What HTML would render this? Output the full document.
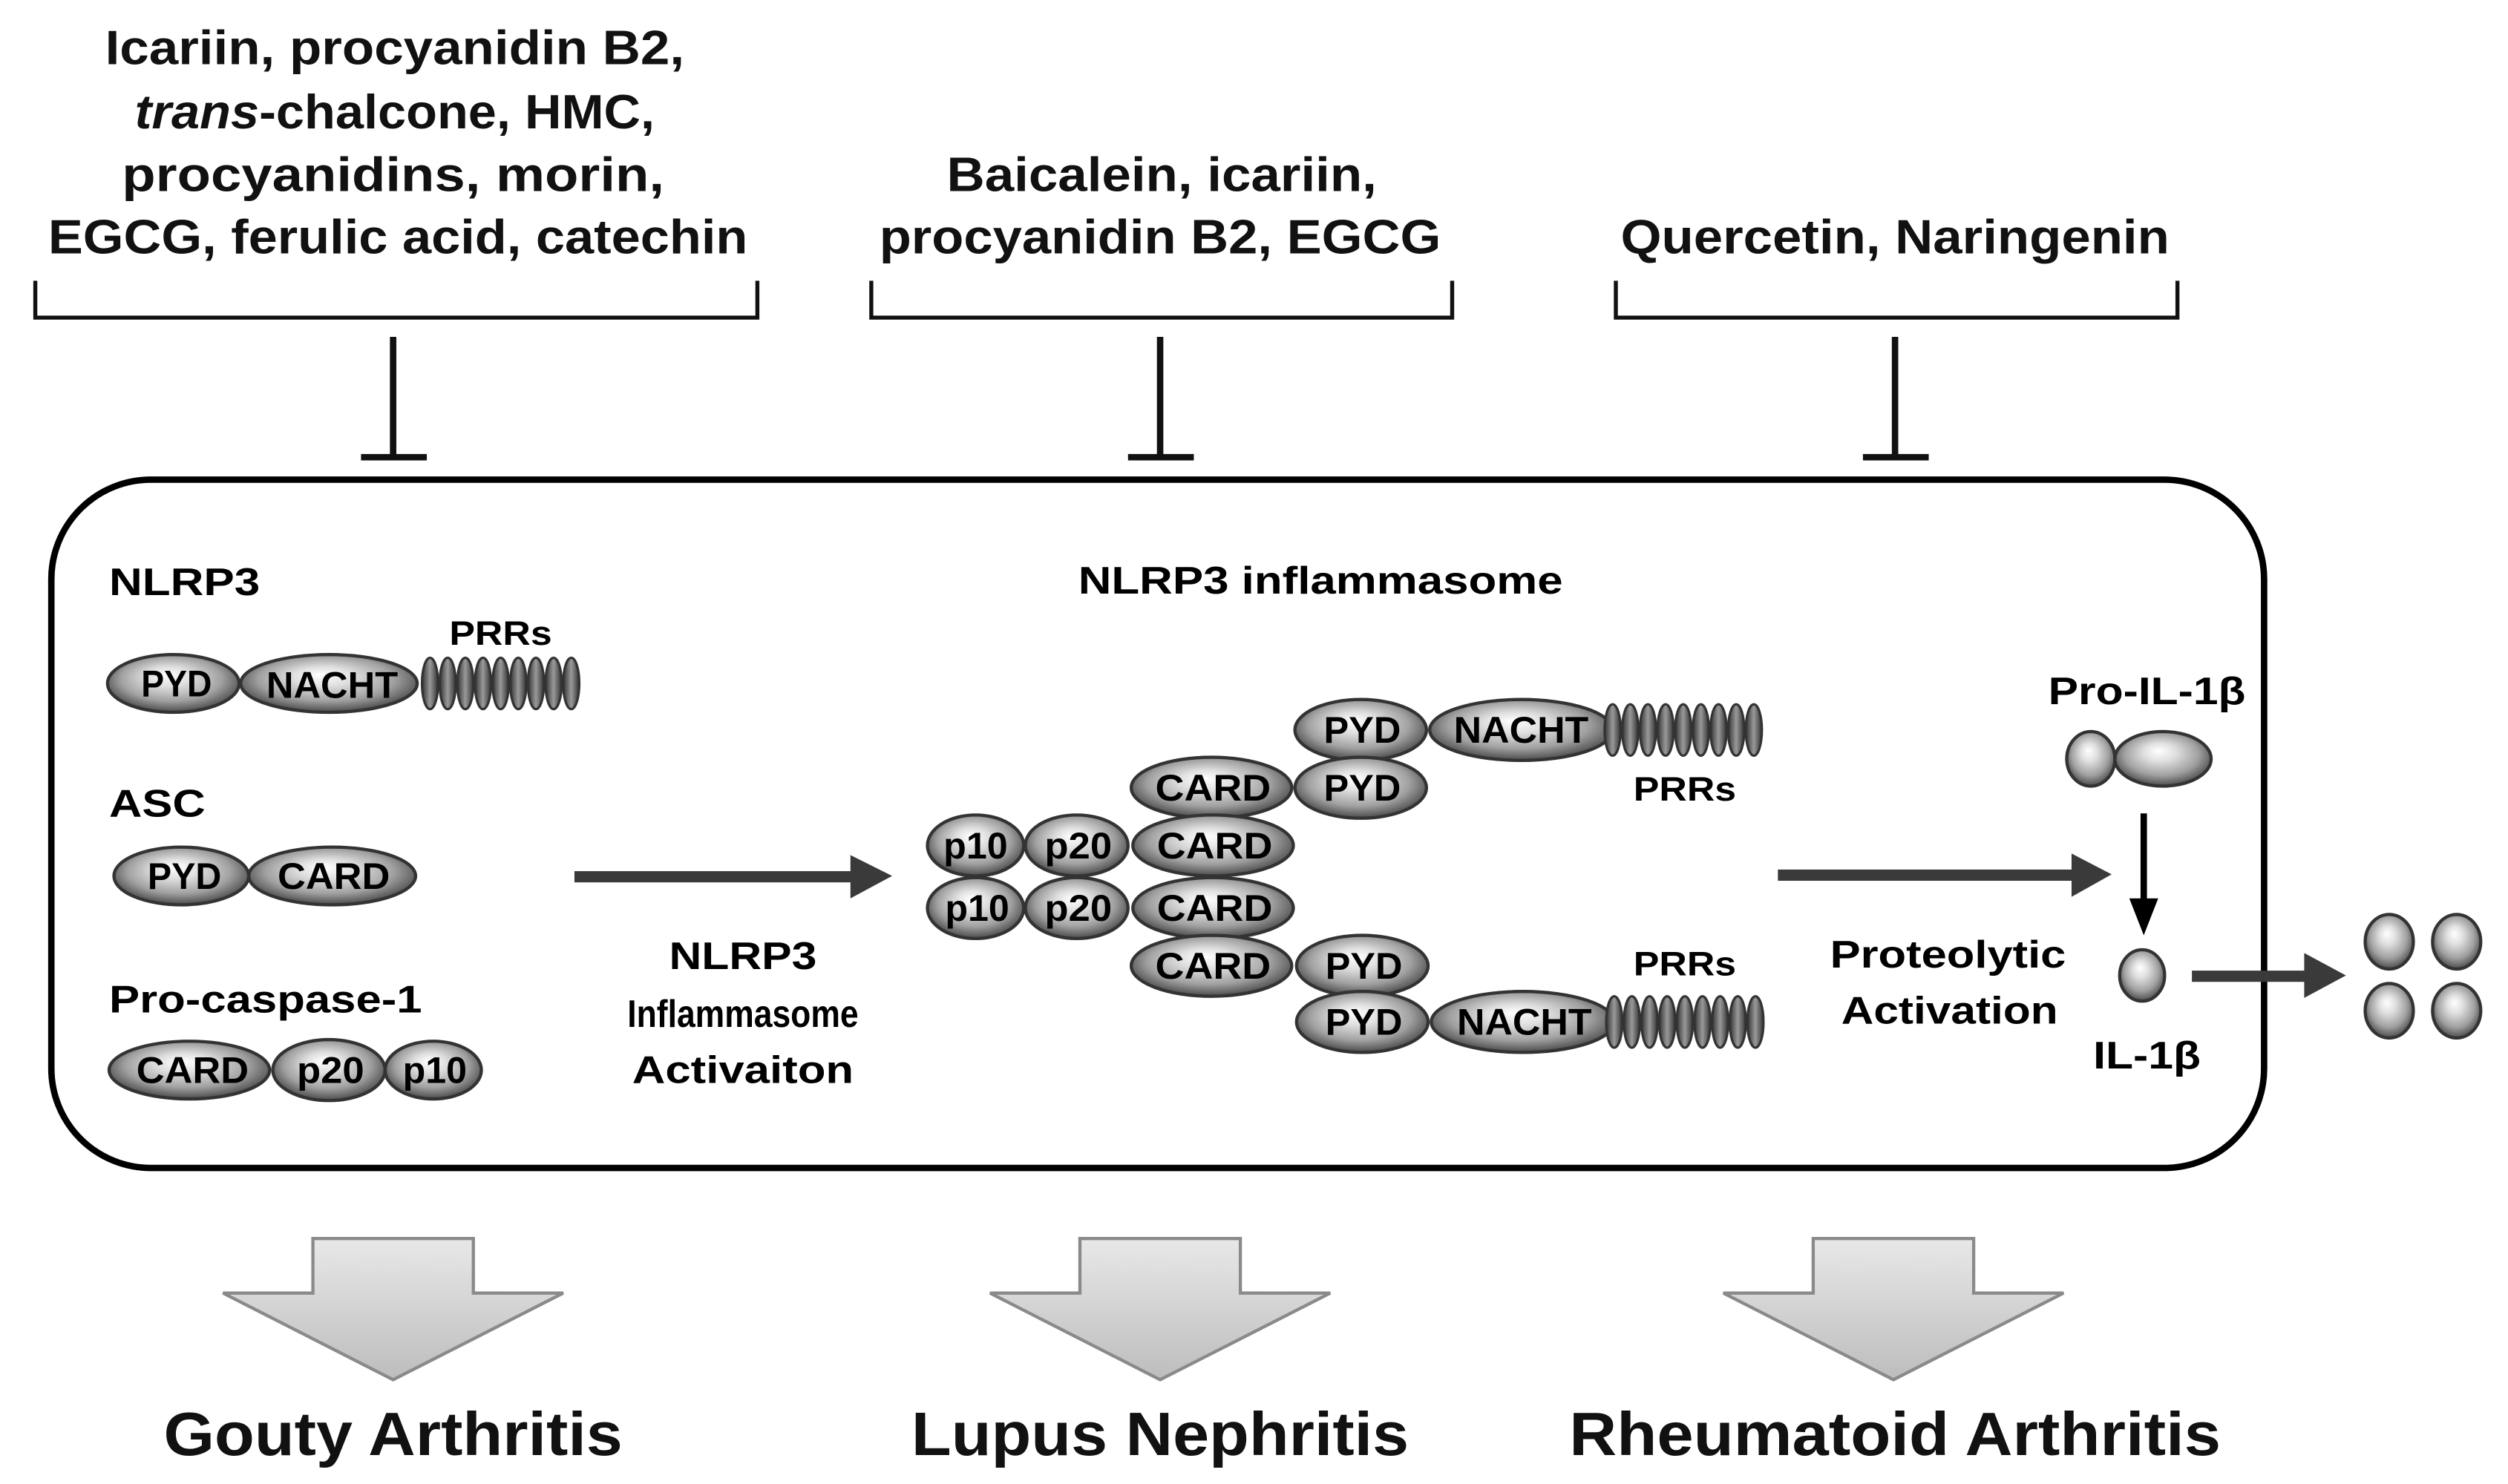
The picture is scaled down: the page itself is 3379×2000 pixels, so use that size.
<!DOCTYPE html>
<html><head><meta charset="utf-8"><style>html,body{margin:0;padding:0;background:#fff}svg{display:block}</style></head>
<body>
<svg width="3379" height="2000" viewBox="0 0 1563 925" preserveAspectRatio="none" xmlns="http://www.w3.org/2000/svg" font-family="Liberation Sans, Arial, sans-serif" font-weight="bold">
<defs>
<radialGradient id="g" cx="0.5" cy="0.45" r="0.55" fx="0.45" fy="0.35">
<stop offset="0" stop-color="#ffffff"/><stop offset="0.3" stop-color="#e0e0e0"/><stop offset="0.7" stop-color="#a0a0a0"/><stop offset="1" stop-color="#4a4a4a"/>
</radialGradient>
<linearGradient id="s" x1="0" x2="1"><stop offset="0" stop-color="#333"/><stop offset="0.5" stop-color="#999"/><stop offset="1" stop-color="#333"/></linearGradient>
<linearGradient id="da" x1="0" y1="0" x2="0" y2="1"><stop offset="0" stop-color="#e8e8e8"/><stop offset="1" stop-color="#bdbdbd"/></linearGradient>
<g id="prr"><g stroke="#333" stroke-width="1.5" fill="url(#s)">
<ellipse cx="5" cy="0" rx="5" ry="16"/><ellipse cx="16" cy="0" rx="5" ry="16"/><ellipse cx="27" cy="0" rx="5" ry="16"/><ellipse cx="38" cy="0" rx="5" ry="16"/><ellipse cx="49" cy="0" rx="5" ry="16"/><ellipse cx="60" cy="0" rx="5" ry="16"/><ellipse cx="71" cy="0" rx="5" ry="16"/><ellipse cx="82" cy="0" rx="5" ry="16"/><ellipse cx="93" cy="0" rx="5" ry="16"/></g></g>
</defs>

<g font-size="30" text-anchor="middle" fill="#111">
<text x="246" y="40" textLength="361" lengthAdjust="spacingAndGlyphs">Icariin, procyanidin B2,</text>
<text x="246" y="80" textLength="324" lengthAdjust="spacingAndGlyphs"><tspan font-style="italic">trans</tspan>-chalcone, HMC,</text>
<text x="245" y="119" textLength="338" lengthAdjust="spacingAndGlyphs">procyanidins, morin,</text>
<text x="248" y="158" textLength="436" lengthAdjust="spacingAndGlyphs">EGCG, ferulic acid, catechin</text>
<text x="724" y="119" textLength="268" lengthAdjust="spacingAndGlyphs">Baicalein, icariin,</text>
<text x="723" y="158" textLength="350" lengthAdjust="spacingAndGlyphs">procyanidin B2, EGCG</text>
<text x="1181" y="158" textLength="342" lengthAdjust="spacingAndGlyphs">Quercetin, Naringenin</text>
</g>

<g fill="none" stroke="#111" stroke-width="2.5">
<path d="M22 175 V198 H472 V175"/><path d="M543 175 V198 H905 V175"/><path d="M1007 175 V198 H1357 V175"/>
</g>
<g stroke="#111" stroke-width="4">
<line x1="245" y1="210" x2="245" y2="285"/><line x1="225" y1="285" x2="266" y2="285"/>
<line x1="723" y1="210" x2="723" y2="285"/><line x1="703" y1="285" x2="744" y2="285"/>
<line x1="1181" y1="210" x2="1181" y2="285"/><line x1="1161" y1="285" x2="1202" y2="285"/>
</g>

<rect x="32" y="299" width="1379" height="429" rx="62" ry="62" fill="none" stroke="#000" stroke-width="4"/>

<g font-size="24" fill="#000">
<text x="68" y="371" textLength="94" lengthAdjust="spacingAndGlyphs">NLRP3</text>
<text x="68" y="509" textLength="60" lengthAdjust="spacingAndGlyphs">ASC</text>
<text x="68" y="631" textLength="195" lengthAdjust="spacingAndGlyphs">Pro-caspase-1</text>
<text x="672" y="370" textLength="302" lengthAdjust="spacingAndGlyphs">NLRP3 inflammasome</text>
<g text-anchor="middle">
<text x="463" y="604" textLength="92" lengthAdjust="spacingAndGlyphs">NLRP3</text>
<text x="463" y="640" textLength="144" lengthAdjust="spacingAndGlyphs">Inflammasome</text>
<text x="463" y="675" textLength="138" lengthAdjust="spacingAndGlyphs">Activaiton</text>
<text x="1214" y="603" textLength="147" lengthAdjust="spacingAndGlyphs">Proteolytic</text>
<text x="1215" y="638" textLength="135" lengthAdjust="spacingAndGlyphs">Activation</text>
<text x="1338" y="439" textLength="123" lengthAdjust="spacingAndGlyphs">Pro-IL-1β</text>
<text x="1338" y="666" textLength="67" lengthAdjust="spacingAndGlyphs">IL-1β</text>
</g>
</g>
<g font-size="21" fill="#000" text-anchor="middle">
<text x="312" y="402" textLength="64" lengthAdjust="spacingAndGlyphs">PRRs</text>
<text x="1050" y="499" textLength="64" lengthAdjust="spacingAndGlyphs">PRRs</text>
<text x="1050" y="608" textLength="64" lengthAdjust="spacingAndGlyphs">PRRs</text>
</g>

<!-- domains -->
<g stroke="#333" stroke-width="2" fill="url(#g)">
<ellipse cx="108" cy="426" rx="41" ry="18"/><ellipse cx="205" cy="426" rx="55" ry="18"/>
<ellipse cx="113" cy="546" rx="42" ry="18"/><ellipse cx="207" cy="546" rx="52" ry="18"/>
<ellipse cx="118" cy="667" rx="50" ry="18"/><ellipse cx="205" cy="667" rx="35" ry="19"/><ellipse cx="270" cy="667" rx="30" ry="18"/>
<ellipse cx="848" cy="455" rx="41" ry="19"/><ellipse cx="948" cy="455" rx="57" ry="19"/>
<ellipse cx="755" cy="491" rx="50" ry="19"/><ellipse cx="848" cy="491" rx="41" ry="19"/>
<ellipse cx="608" cy="527" rx="30" ry="19"/><ellipse cx="671" cy="527" rx="32" ry="19"/><ellipse cx="756" cy="527" rx="50" ry="19"/>
<ellipse cx="608" cy="566" rx="30" ry="19"/><ellipse cx="671" cy="566" rx="32" ry="19"/><ellipse cx="756" cy="566" rx="50" ry="19"/>
<ellipse cx="755" cy="602" rx="50" ry="19"/><ellipse cx="849" cy="602" rx="41" ry="19"/>
<ellipse cx="849" cy="637" rx="41" ry="19"/><ellipse cx="949" cy="637" rx="57" ry="19"/>
<ellipse cx="1303" cy="473" rx="15" ry="17"/><ellipse cx="1348" cy="473" rx="30" ry="17"/>
<ellipse cx="1335" cy="608" rx="14" ry="16"/>
<ellipse cx="1489" cy="587" rx="15" ry="17"/><ellipse cx="1531" cy="587" rx="15" ry="17"/>
<ellipse cx="1489" cy="630" rx="15" ry="17"/><ellipse cx="1531" cy="630" rx="15" ry="17"/>
</g>
<use href="#prr" x="263" y="426"/>
<use href="#prr" x="1000" y="455"/>
<use href="#prr" x="1001" y="637"/>

<g font-size="23" fill="#000" text-anchor="middle">
<text x="110" y="434" textLength="44" lengthAdjust="spacingAndGlyphs">PYD</text>
<text x="207" y="435" textLength="82" lengthAdjust="spacingAndGlyphs">NACHT</text>
<text x="115" y="554" textLength="46" lengthAdjust="spacingAndGlyphs">PYD</text>
<text x="208" y="554" textLength="70" lengthAdjust="spacingAndGlyphs">CARD</text>
<text x="120" y="675" textLength="70" lengthAdjust="spacingAndGlyphs">CARD</text>
<text x="206" y="675" textLength="42" lengthAdjust="spacingAndGlyphs">p20</text>
<text x="271" y="675" textLength="40" lengthAdjust="spacingAndGlyphs">p10</text>
<text x="849" y="463" textLength="48" lengthAdjust="spacingAndGlyphs">PYD</text>
<text x="948" y="463" textLength="84" lengthAdjust="spacingAndGlyphs">NACHT</text>
<text x="756" y="499" textLength="72" lengthAdjust="spacingAndGlyphs">CARD</text>
<text x="849" y="499" textLength="48" lengthAdjust="spacingAndGlyphs">PYD</text>
<text x="608" y="535" textLength="40" lengthAdjust="spacingAndGlyphs">p10</text>
<text x="672" y="535" textLength="42" lengthAdjust="spacingAndGlyphs">p20</text>
<text x="757" y="535" textLength="72" lengthAdjust="spacingAndGlyphs">CARD</text>
<text x="609" y="574" textLength="40" lengthAdjust="spacingAndGlyphs">p10</text>
<text x="672" y="574" textLength="42" lengthAdjust="spacingAndGlyphs">p20</text>
<text x="757" y="574" textLength="72" lengthAdjust="spacingAndGlyphs">CARD</text>
<text x="756" y="610" textLength="72" lengthAdjust="spacingAndGlyphs">CARD</text>
<text x="850" y="610" textLength="48" lengthAdjust="spacingAndGlyphs">PYD</text>
<text x="850" y="645" textLength="48" lengthAdjust="spacingAndGlyphs">PYD</text>
<text x="950" y="645" textLength="84" lengthAdjust="spacingAndGlyphs">NACHT</text>
</g>

<!-- arrows -->
<g fill="#3a3a3a">
<rect x="358" y="543" width="175" height="7"/><polygon points="530,533 556,546 530,560"/>
<rect x="1108" y="542" width="185" height="7"/><polygon points="1291,532 1316,545 1291,559"/>
<rect x="1366" y="605" width="72" height="7"/><polygon points="1436,594 1462,608 1436,622"/>
</g>
<g fill="#000"><rect x="1334" y="507" width="4" height="55"/><polygon points="1327,560 1345,560 1336,583"/></g>

<!-- big down arrows -->
<g fill="url(#da)" stroke="#8a8a8a" stroke-width="2">
<polygon points="195,772 295,772 295,806 351,806 245,860 139,806 195,806"/>
<polygon points="673,772 773,772 773,806 829,806 723,860 617,806 673,806"/>
<polygon points="1130,772 1230,772 1230,806 1286,806 1180,860 1074,806 1130,806"/>
</g>

<g font-size="38" fill="#111" text-anchor="middle">
<text x="245" y="907" textLength="286" lengthAdjust="spacingAndGlyphs">Gouty Arthritis</text>
<text x="723" y="907" textLength="310" lengthAdjust="spacingAndGlyphs">Lupus Nephritis</text>
<text x="1181" y="907" textLength="406" lengthAdjust="spacingAndGlyphs">Rheumatoid Arthritis</text>
</g>
</svg>
</body></html>
